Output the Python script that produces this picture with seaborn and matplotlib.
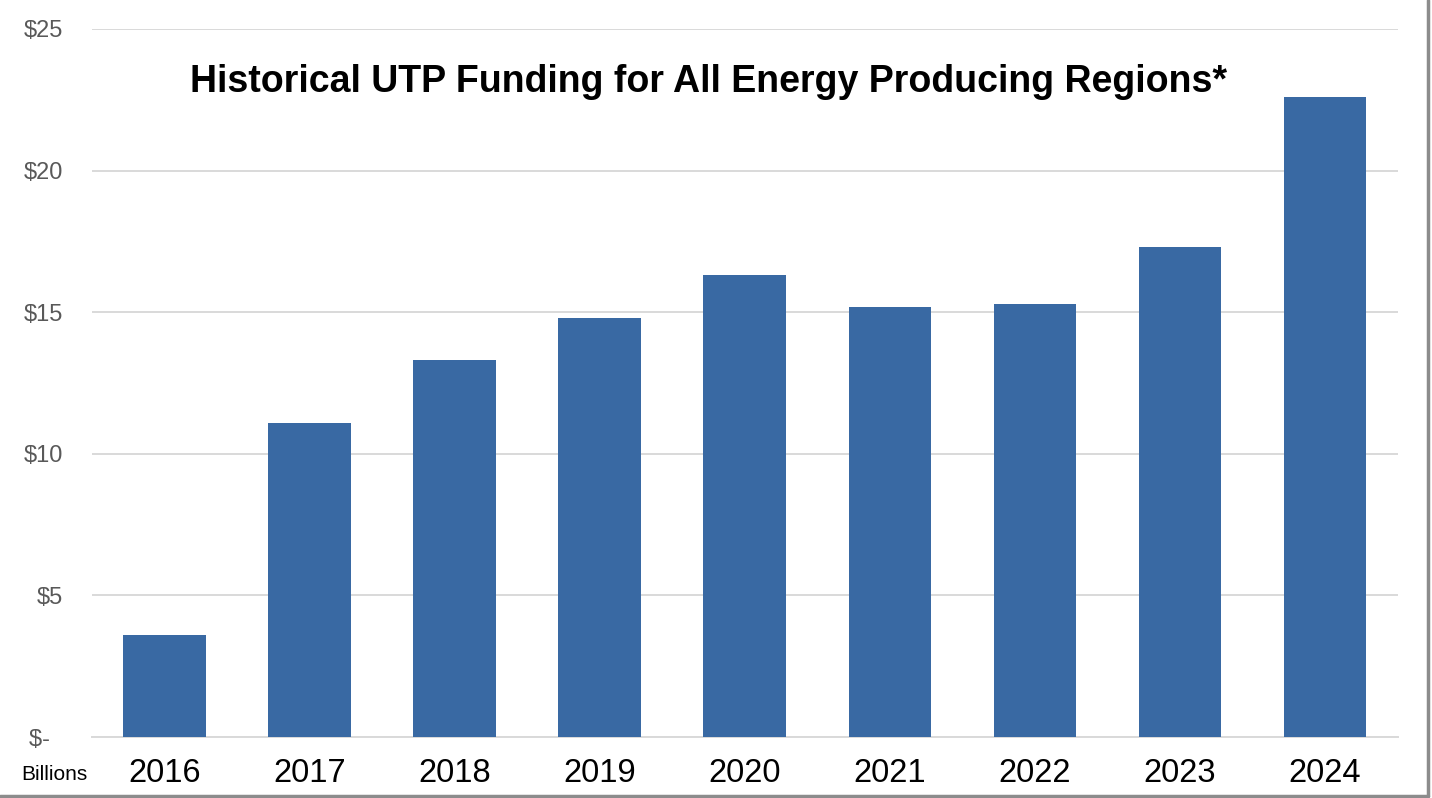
import pandas as pd
import seaborn as sns
import matplotlib.pyplot as plt
from matplotlib.lines import Line2D

years = ["2016", "2017", "2018", "2019", "2020", "2021", "2022", "2023", "2024"]
funding = [3.6, 11.1, 13.3, 14.8, 16.3, 15.2, 15.3, 17.3, 22.6]
y_ticks = [0, 5, 10, 15, 20, 25]
y_labels = ["$-  ", "$5", "$10", "$15", "$20", "$25"]

BAR_COLOR = "#3969A3"
GRID_COLOR = "#d9d9d9"

df = pd.DataFrame({"Year": years, "Funding": funding})

sns.set_theme(style="white")
plt.rcParams["font.family"] = ["Liberation Sans", "DejaVu Sans"]

fig = plt.figure(figsize=(14.32, 7.98), dpi=100)
ax = fig.add_axes([0.0642, 0.0764, 0.9118, 0.8873])

sns.barplot(data=df, x="Year", y="Funding", color=BAR_COLOR, width=0.57,
            saturation=1, linewidth=0, edgecolor="none", ax=ax, zorder=3)

ax.set_ylim(0, 25)
ax.set_xlim(-0.5, len(years) - 0.5)
ax.set_yticks(y_ticks)
ax.set_yticklabels(y_labels)
ax.yaxis.grid(True, color=GRID_COLOR, linewidth=1.4, zorder=0)
ax.set_axisbelow(True)
ax.set_xlabel("")
ax.set_ylabel("")

for side in ["top", "right", "left"]:
    ax.spines[side].set_visible(False)
ax.spines["bottom"].set_color(GRID_COLOR)
ax.spines["bottom"].set_linewidth(1.4)

ax.tick_params(axis="y", length=0, pad=21, labelsize=17, labelcolor="#595959")
ax.tick_params(axis="x", length=0, pad=15, labelsize=23.5, labelcolor="black")

fig.text(0.495, 0.897, "Historical UTP Funding for All Energy Producing Regions*",
         ha="center", va="center", fontsize=27, fontweight="bold", color="black",
         family=["Liberation Sans Narrow", "Liberation Sans", "DejaVu Sans"])
fig.text(0.015, 0.03, "Billions", ha="left", va="center", fontsize=15,
         color="black")

# frame lines on the right and bottom edges
fig.add_artist(Line2D([0.9975, 0.9975], [0.003, 1.0], transform=fig.transFigure,
                      color="#8c8c8c", linewidth=2.5))
fig.add_artist(Line2D([0.0, 0.9975], [0.003, 0.003], transform=fig.transFigure,
                      color="#8c8c8c", linewidth=2.5))

fig.savefig("out.png", dpi=100)
